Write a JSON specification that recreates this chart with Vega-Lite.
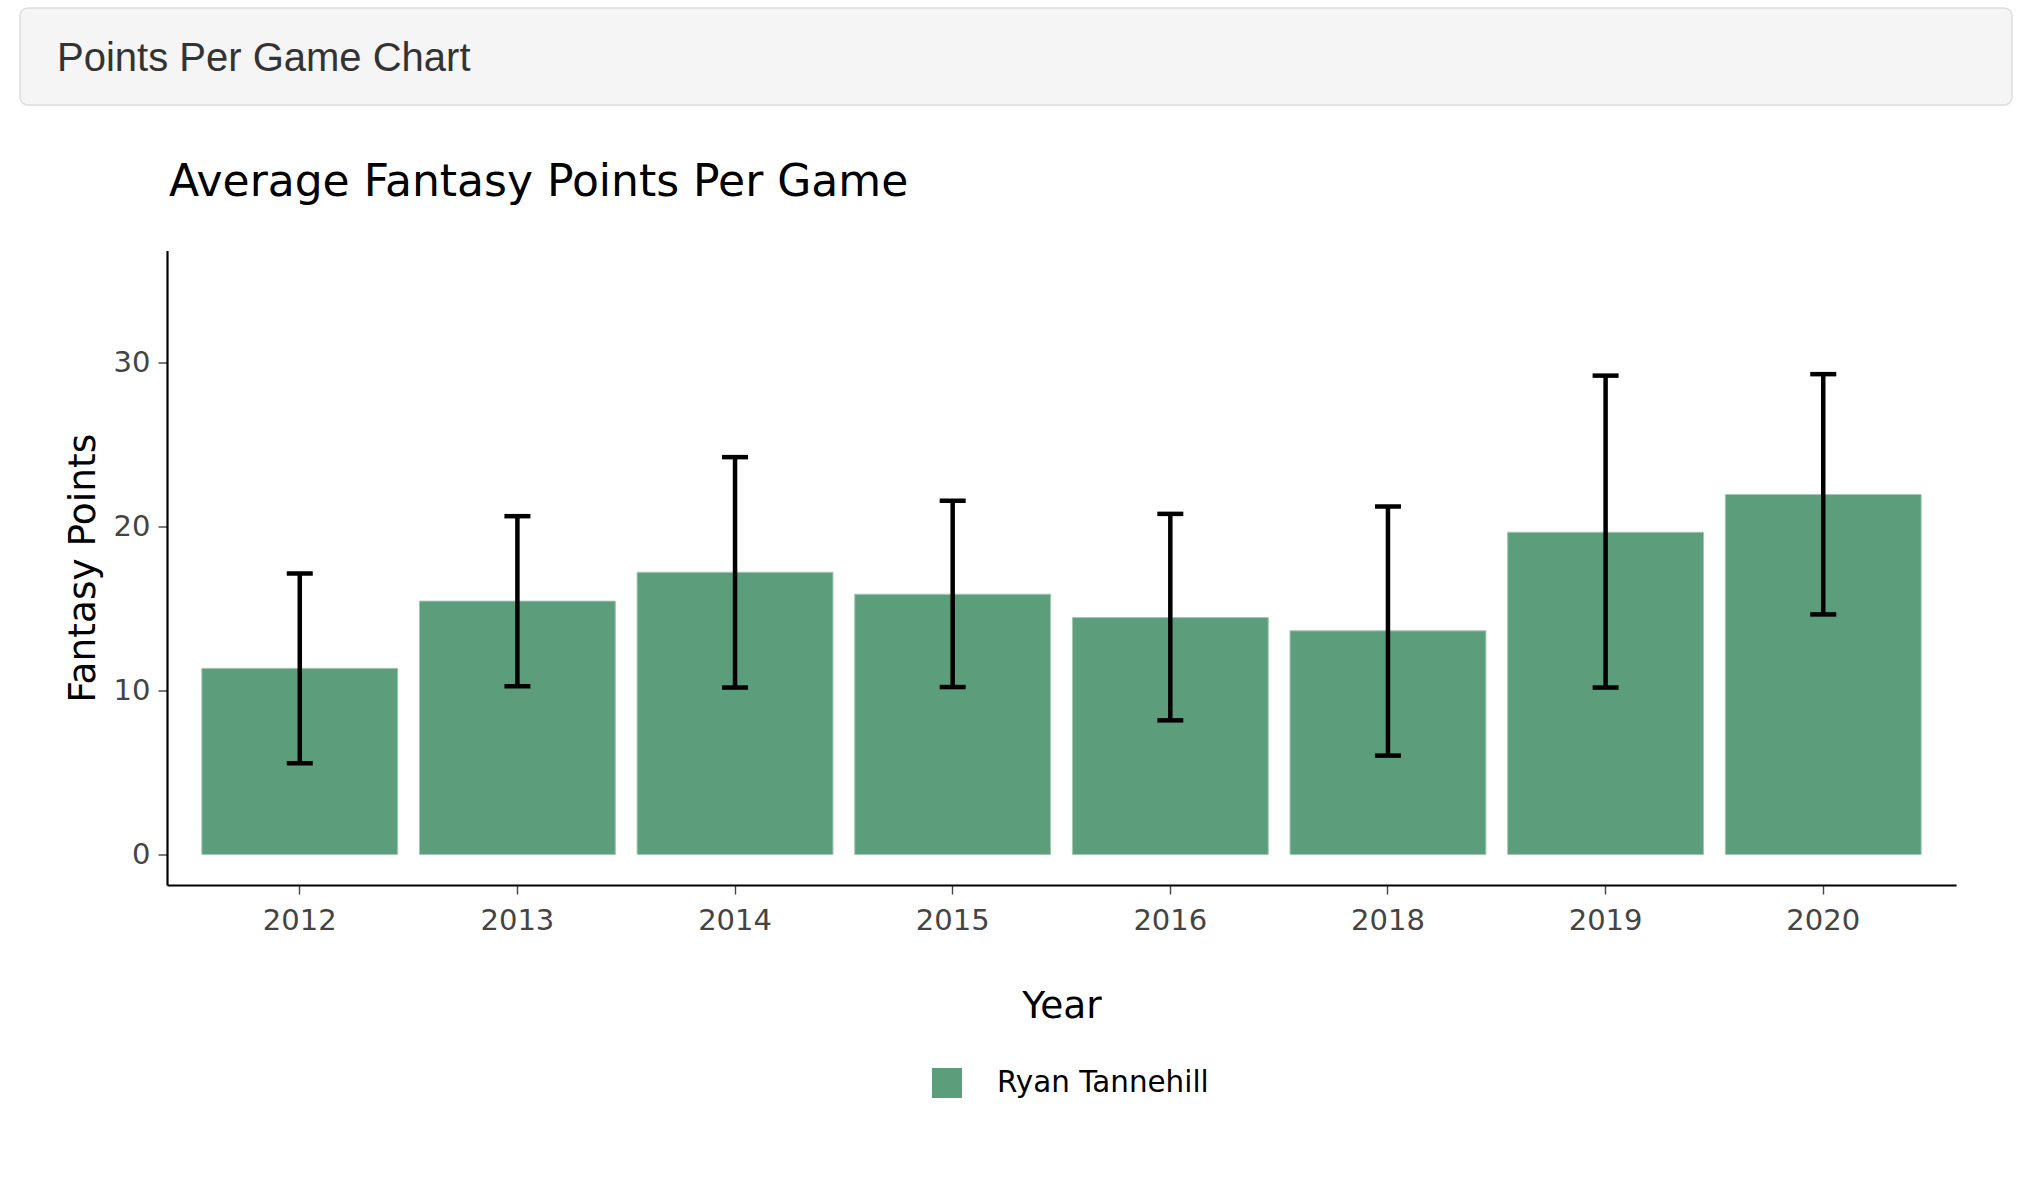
{
  "$schema": "https://vega.github.io/schema/vega-lite/v6.json",
  "background": "white",
  "padding": {"left": 19, "top": 7, "right": 0, "bottom": 0},
  "bounds": "flush",
  "spacing": 145.5,
  "config": {
    "view": {"stroke": null},
    "font": "DejaVu Sans",
    "axisX": {
      "domainColor": "#000000", "domainWidth": 2.2,
      "tickColor": "#444444", "tickWidth": 1.4, "tickSize": 9,
      "labelFont": "DejaVu Sans", "labelFontSize": 29, "labelColor": "#444444",
      "labelPadding": 12, "labelAngle": 0,
      "titleFont": "DejaVu Sans", "titleFontSize": 37.5, "titleFontWeight": "normal",
      "titleColor": "#000000", "titlePadding": 52, "grid": false
    },
    "axisY": {
      "domainColor": "#000000", "domainWidth": 2.2,
      "tickColor": "#444444", "tickWidth": 1.4, "tickSize": 9,
      "labelFont": "DejaVu Sans", "labelFontSize": 29, "labelColor": "#444444",
      "labelPadding": 8,
      "titleFont": "DejaVu Sans", "titleFontSize": 37.5, "titleFontWeight": "normal",
      "titleColor": "#000000", "titlePadding": 11, "grid": false
    }
  },
  "vconcat": [
    {
      "width": 1992,
      "height": 97,
      "view": {"fill": "#f5f5f5", "stroke": "#dddddd", "strokeWidth": 1.5, "cornerRadius": 8},
      "title": {
        "text": "Points Per Game Chart",
        "anchor": "start", "frame": "group", "orient": "top",
        "offset": -63, "dy": 40, "dx": 37, "baseline": "alphabetic",
        "font": "Liberation Sans", "fontSize": 40, "fontWeight": "normal", "color": "#333333"
      },
      "data": {"values": []},
      "mark": "text",
      "encoding": {}
    },
    {
      "bounds": "flush",
      "spacing": 0,
      "hconcat": [
        {
          "width": 147,
          "height": 634.5,
          "data": {"values": []},
          "mark": "point",
          "encoding": {}
        },
        {
          "width": 1789,
          "height": 634.5,
          "title": {
            "text": "Average Fantasy Points Per Game",
            "anchor": "start", "frame": "group",
            "offset": 11, "dx": 2, "baseline": "alphabetic",
            "font": "DejaVu Sans", "fontSize": 44, "fontWeight": "normal", "color": "#000000"
          },
          "data": {
            "values": [
              {"Year": "2012", "Player": "Ryan Tannehill", "Points": 11.35, "lo": 5.56, "hi": 17.14},
              {"Year": "2013", "Player": "Ryan Tannehill", "Points": 15.45, "lo": 10.26, "hi": 20.63},
              {"Year": "2014", "Player": "Ryan Tannehill", "Points": 17.21, "lo": 10.18, "hi": 24.23},
              {"Year": "2015", "Player": "Ryan Tannehill", "Points": 15.87, "lo": 10.21, "hi": 21.57},
              {"Year": "2016", "Player": "Ryan Tannehill", "Points": 14.45, "lo": 8.18, "hi": 20.77},
              {"Year": "2018", "Player": "Ryan Tannehill", "Points": 13.64, "lo": 6.03, "hi": 21.22},
              {"Year": "2019", "Player": "Ryan Tannehill", "Points": 19.65, "lo": 10.18, "hi": 29.2},
              {"Year": "2020", "Player": "Ryan Tannehill", "Points": 21.95, "lo": 14.64, "hi": 29.29}
            ]
          },
          "encoding": {
            "x": {
              "field": "Year", "type": "nominal", "sort": null, "title": "Year",
              "scale": {"paddingInner": 0.1, "paddingOuter": 0.16}
            }
          },
          "layer": [
            {
              "mark": {"type": "bar", "stroke": "#a3c8b4", "strokeWidth": 1},
              "encoding": {
                "y": {
                  "field": "Points", "type": "quantitative", "title": "Fantasy Points",
                  "scale": {"domain": [-1.86, 36.83], "nice": false, "zero": false},
                  "axis": {"values": [0, 10, 20, 30]}
                },
                "y2": {"datum": 0},
                "color": {
                  "field": "Player", "type": "nominal",
                  "scale": {"range": ["#5c9e7b"]},
                  "legend": {
                    "orient": "none", "legendX": 912, "legendY": 1060, "title": null,
                    "symbolType": "square", "symbolSize": 900, "symbolStrokeWidth": 0,
                    "symbolOpacity": 1, "labelFont": "DejaVu Sans", "labelFontSize": 29.4,
                    "labelColor": "#000000", "labelOffset": 35, "labelLimit": 0, "padding": 0
                  }
                }
              }
            },
            {
              "mark": {"type": "rule", "color": "#000000", "strokeWidth": 4.5},
              "encoding": {
                "y": {"field": "lo", "type": "quantitative", "title": "Fantasy Points"},
                "y2": {"field": "hi"}
              }
            },
            {
              "mark": {"type": "tick", "color": "#000000", "size": 26, "thickness": 4.5, "opacity": 1},
              "encoding": {
                "y": {"field": "lo", "type": "quantitative", "title": "Fantasy Points"}
              }
            },
            {
              "mark": {"type": "tick", "color": "#000000", "size": 26, "thickness": 4.5, "opacity": 1},
              "encoding": {
                "y": {"field": "hi", "type": "quantitative", "title": "Fantasy Points"}
              }
            }
          ]
        }
      ]
    }
  ]
}
